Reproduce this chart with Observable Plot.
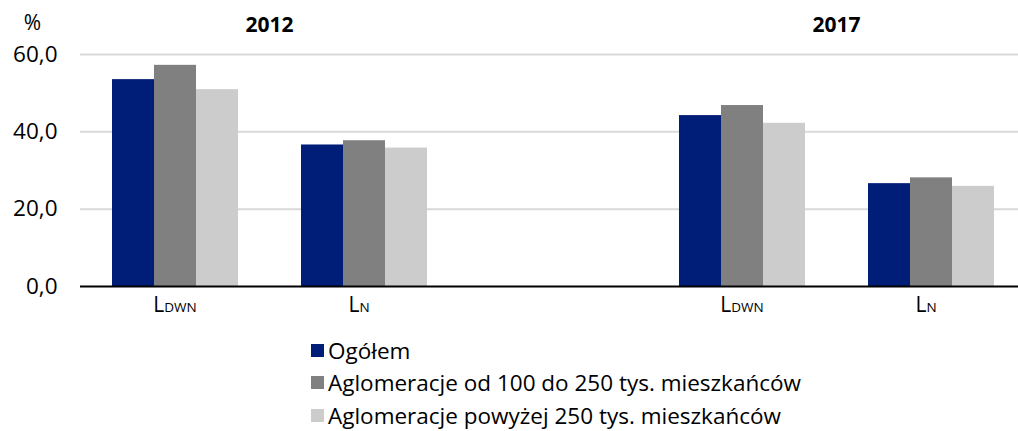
<!DOCTYPE html>
<html>
<head>
<meta charset="utf-8">
<script src="https://cdn.jsdelivr.net/npm/d3@7"></script>
<script src="https://cdn.jsdelivr.net/npm/@observablehq/plot@0.6"></script>
<style>
  html, body { margin: 0; padding: 0; background: #fff; }
  #chart svg { display: block; }
  #legend { margin-left: 311px; padding-top: 4px; font-family: "Open Sans", sans-serif; font-size: 22.5px; color: #000; }
  #legend .row { display: flex; align-items: center; height: 32.5px; }
  #legend .sw { width: 13px; height: 13px; margin-right: 4px; flex: none; }
</style>
</head>
<body>
<div id="chart"></div>
<div id="legend"></div>
<script>
// ---- data ----
const years = ["2012", "2017"];
const indicators = ["LDWN", "LN"];
const series = [
  "Ogółem",
  "Aglomeracje od 100 do 250 tys. mieszkańców",
  "Aglomeracje powyżej 250 tys. mieszkańców"
];
// order: 2012 LDWN, 2012 LN, 2017 LDWN, 2017 LN
const ogolem = [53.5, 36.6, 44.2, 26.6];
const aglo100to250 = [57.2, 37.7, 46.8, 28.1];
const aglo250plus = [50.9, 35.8, 42.2, 25.9];
const yTicks = [0, 20, 40, 60];
const colors = ["#001d77", "#808080", "#cccccc"];

// ---- build table ----
const groups = [];
years.forEach(y => indicators.forEach(i => groups.push(y + "|" + i)));
const fxDomain = [groups[0], groups[1], "gap", groups[2], groups[3]];
const seriesValues = [ogolem, aglo100to250, aglo250plus];
const data = groups.flatMap((g, gi) =>
  series.map((s, si) => ({group: g, series: s, value: seriesValues[si][gi]}))
);
const yearLabels = years.map(y => ({group: y + "|" + indicators[0], text: y}));
const gridData = fxDomain.flatMap(f => yTicks.slice(1).map(t => ({group: f, y: t})));
const baseData = fxDomain.map(f => ({group: f, y: 0}));

const fmt = d => d.toFixed(1).replace(".", ",");

const plot = Plot.plot({
  width: 1018,
  height: 330,
  marginLeft: 80,
  marginRight: 0,
  marginTop: 54,
  marginBottom: 44,
  style: {fontFamily: "'Open Sans', sans-serif", fontSize: "22.5px", color: "#000", background: "#fff"},
  fx: {domain: fxDomain, padding: 0, range: [80, 1025], label: null, axis: "bottom",
       tickSize: 0, tickPadding: 11, tickFormat: g => g === "gap" ? "" : g.split("|")[1]},
  x: {domain: series, paddingInner: 0, paddingOuter: 0.75, axis: null},
  y: {domain: [0, 60], ticks: yTicks, tickSize: 0, tickPadding: 23, tickFormat: fmt, label: null, grid: false},
  color: {domain: series, range: colors},
  marks: [
    Plot.ruleY(gridData, {fx: "group", y: "y", stroke: "#d9d9d9", strokeWidth: 2}),
    Plot.barY(data, {fx: "group", x: "series", y: "value", fill: "series"}),
    Plot.ruleY(baseData, {fx: "group", y: "y", stroke: "#000", strokeWidth: 2}),
    Plot.text(yearLabels, {fx: "group", text: "text", frameAnchor: "top", lineAnchor: "middle",
      dx: 94.5, dy: -29, fontWeight: "bold", fontSize: 21}),
    Plot.text([{group: groups[0], text: "%"}], {fx: "group", text: "text", frameAnchor: "top-left",
      textAnchor: "middle", lineAnchor: "middle", dx: -48, dy: -31, fontSize: 21})
  ]
});
document.getElementById("chart").appendChild(plot);

// subscript formatting of x tick labels (L + small DWN / N)
plot.querySelectorAll('g[aria-label="fx-axis tick label"] text').forEach(el => {
  const t = el.textContent;
  if (t.length > 1 && t[0] === "L") {
    el.textContent = "L";
    el.setAttribute("font-size", "21");
    const ts = document.createElementNS("http://www.w3.org/2000/svg", "tspan");
    ts.setAttribute("font-size", "13.5");
    ts.textContent = t.slice(1);
    el.appendChild(ts);
    el.setAttribute("dx", t.length > 2 ? "0" : "-5");
  }
});

// legend
const legend = document.getElementById("legend");
series.forEach((s, i) => {
  const row = document.createElement("div");
  row.className = "row";
  const sw = document.createElement("span");
  sw.className = "sw";
  sw.style.background = colors[i];
  row.appendChild(sw);
  row.appendChild(document.createTextNode(s));
  legend.appendChild(row);
});
</script>
</body>
</html>
